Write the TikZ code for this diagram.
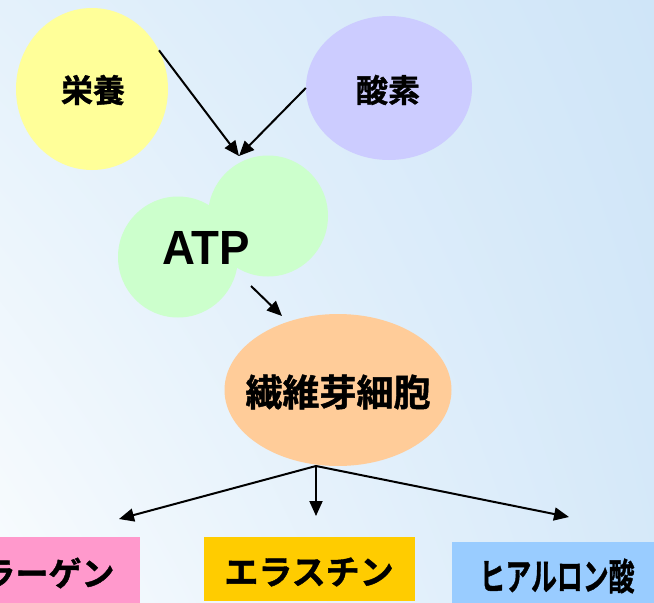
\documentclass[tikz,border=0pt]{standalone}
\usepackage{fontspec}
\setmainfont{Liberation Sans}
\newfontfamily\cjkb[FakeBold=1.2]{Noto Sans CJK JP Bold}
\usetikzlibrary{shapes.geometric,arrows.meta,shadings}
\definecolor{bgul}{HTML}{E4F1FB}
\definecolor{bgur}{HTML}{CFE5F8}
\definecolor{bgll}{HTML}{F9FCFE}
\definecolor{bglr}{HTML}{D6E9F9}
\definecolor{cyel}{HTML}{FFFF99}
\definecolor{cpur}{HTML}{CCCCFF}
\definecolor{cgrn}{HTML}{CCFFCC}
\definecolor{corg}{HTML}{FFCC99}
\definecolor{cpink}{HTML}{FF99CC}
\definecolor{cgold}{HTML}{FFCC00}
\definecolor{cblue}{HTML}{99CCFF}
\tikzset{
  blob/.style={ellipse, draw=none, inner sep=0pt},
  flow/.style={line width=2pt, -{Triangle[length=15pt,width=13pt]}},
  boxe/.style={rectangle, draw=none, inner sep=0pt, anchor=north west},
  jtxt/.style={font=\cjkb\fontsize{33}{36}\selectfont}
}
\begin{document}
\begin{tikzpicture}[x=1pt,y=-1pt]
\useasboundingbox (0,0) rectangle (654,603);
\shade[upper left=bgul, upper right=bgur, lower left=bgll, lower right=bglr] (0,0) rectangle (654,603);
% ellipses
\node[blob, fill=cyel, minimum width=152pt, minimum height=162pt] (nut) at (92,89) {};
\node[jtxt, font=\cjkb\fontsize{32}{34}\selectfont] (nutt) at (93,90) {栄養};
\node[blob, fill=cpur, minimum width=166pt, minimum height=144pt] (oxy) at (389,88) {};
\node[jtxt, font=\cjkb\fontsize{32}{34}\selectfont] (oxyt) at (388,90) {酸素};
\node[blob, fill=cgrn, minimum width=120pt, minimum height=121pt] (atpb) at (268,216) {};
\node[blob, fill=cgrn, minimum width=120pt, minimum height=121pt] (atpf) at (178,257) {};
\node[font=\bfseries\fontsize{48}{52}\selectfont, xscale=0.95] (atpt) at (206,248) {ATP};
\node[blob, fill=corg, minimum width=227pt, minimum height=152pt] (fib) at (338,390) {};
\node[jtxt, font=\cjkb\fontsize{37}{40}\selectfont] (fibt) at (338,392) {繊維芽細胞};
% boxes
\node[boxe, fill=cpink, minimum width=160pt, minimum height=70pt] (col) at (-20,537) {};
\node[jtxt, font=\cjkb\fontsize{33}{36}\selectfont, anchor=east] (colt) at (118,573) {コラーゲン};
\node[boxe, fill=cgold, minimum width=211pt, minimum height=64pt] (ela) at (204,537) {};
\node[jtxt, font=\cjkb\fontsize{34}{36}\selectfont] (elat) at (309,572) {エラスチン};
\node[boxe, fill=cblue, minimum width=210pt, minimum height=65pt] (hya) at (452,542) {};
\node[jtxt, font=\cjkb\fontsize{37}{40}\selectfont, xscale=0.7] (hyat) at (557,576) {ヒアルロン酸};
% connectors
\coordinate (atpin) at (239,156);
\coordinate (atpout) at (251,286);
\coordinate (fibin) at (282,316);
\coordinate (fibout) at (316,466);
\coordinate (colin) at (119,519);
\coordinate (elain) at (316,516);
\coordinate (hyain) at (569,517);
\draw[flow] (nut.30) -- (atpin);
\draw[flow] (oxy.180) -- (atpin);
\draw[flow] (atpout) -- (fibin);
\draw[flow] (fibout) -- (colin);
\draw[flow] (fibout) -- (elain);
\draw[flow] (fibout) -- (hyain);
\end{tikzpicture}
\end{document}
